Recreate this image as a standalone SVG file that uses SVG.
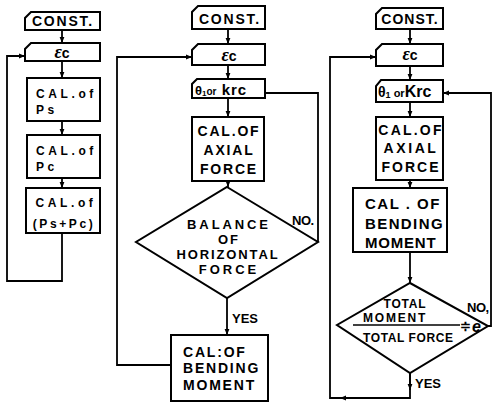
<svg xmlns="http://www.w3.org/2000/svg" width="492" height="404" viewBox="0 0 492 404">
<style>
.b{fill:#fff;stroke:#000;stroke-width:2}
.c{fill:none;stroke:#000;stroke-width:1.8}
text{font-family:"Liberation Sans",Arial,sans-serif;font-weight:bold;fill:#000}
.t14{font-size:14px;letter-spacing:1.8px}
.t13{font-size:12px;letter-spacing:3.6px}
.m{text-anchor:middle}
.e{font-family:"Liberation Serif",serif;font-style:italic;font-size:18px}
</style>
<defs>
<marker id="a" viewBox="0 0 10 10" refX="10" refY="5" markerWidth="6" markerHeight="6" orient="auto" markerUnits="userSpaceOnUse"><path d="M0,1 L10,5 L0,9 Z" fill="#000"/></marker>
</defs>
<g id="connectors">
<path class="c" d="M62,30 V43" marker-end="url(#a)"/>
<path class="c" d="M62,61 V78" marker-end="url(#a)"/>
<path class="c" d="M62,121 V135" marker-end="url(#a)"/>
<path class="c" d="M62,178 V188" marker-end="url(#a)"/>
<path class="c" d="M62,233 V281 H7 V56 H25" marker-end="url(#a)"/>
<path class="c" d="M228,29 V44" marker-end="url(#a)"/>
<path class="c" d="M228,65 V79" marker-end="url(#a)"/>
<path class="c" d="M228,98 V117" marker-end="url(#a)"/>
<path class="c" d="M228,181 V187" marker-end="url(#a)"/>
<path class="c" d="M227,298 V335" marker-end="url(#a)"/>
<path class="c" d="M171,365 H117 V57 H192" marker-end="url(#a)"/>
<path class="c" d="M318,242 V93 H265"/>
<path class="c" d="M410,29 V44" marker-end="url(#a)"/>
<path class="c" d="M410,66 V80" marker-end="url(#a)"/>
<path class="c" d="M410,102 V117" marker-end="url(#a)"/>
<path class="c" d="M410,180 V188" marker-end="url(#a)"/>
<path class="c" d="M410,252 V283" marker-end="url(#a)"/>
<path class="c" d="M410,373 V398 H330 V57 H376" marker-end="url(#a)"/>
<path class="c" d="M410,373 V390" marker-end="url(#a)"/>
<path class="c" d="M410,398 H340" marker-end="url(#a)"/>
<path class="c" d="M483,326 H491 V93 H443" marker-end="url(#a)"/>
</g>
<g id="c1-const"><path class="b" d="M31,12 H100 V30 H25 V18 Z"/><text class="t14 m" x="63" y="26">CONST.</text></g>
<g id="c1-ec"><path class="b" d="M31,43 H100 V61 H25 V49 Z"/><text class="e m" x="62" y="58">ε<tspan font-family="Liberation Sans" font-style="normal" font-size="14">c</tspan></text></g>
<g id="c1-ps"><rect class="b" x="27" y="78" width="73" height="43"/><text class="t13" x="36" y="98">CAL.of</text><text class="t13" x="36" y="114">Ps</text></g>
<g id="c1-pc"><rect class="b" x="27" y="135" width="73" height="43"/><text class="t13" x="36" y="155">CAL.of</text><text class="t13" x="36" y="171">Pc</text></g>
<g id="c1-pspc"><rect class="b" x="26" y="188" width="74" height="45"/><text class="t13 m" x="66" y="207">CAL.of</text><text class="m" x="64" y="228" font-size="12" letter-spacing="2.6">(Ps+Pc)</text></g>

<g id="c2-const"><path class="b" d="M198,6 H265 V29 H192 V12 Z"/><text class="t14 m" x="230" y="24">CONST.</text></g>
<g id="c2-ec"><path class="b" d="M198,44 H265 V65 H192 V50 Z"/><text class="e m" x="229" y="61">ε<tspan font-family="Liberation Sans" font-style="normal" font-size="14">c</tspan></text></g>
<g id="c2-theta"><path class="b" d="M197,79 H265 V98 H192 V84 Z"/><text x="195" y="95" font-size="13">θ<tspan font-size="8" dy="1">1</tspan><tspan font-size="10" dy="-1">or</tspan><tspan font-size="15" letter-spacing="1"> krc</tspan></text></g>
<g id="c2-axial"><rect class="b" x="192" y="117" width="72" height="64"/><text class="t14 m" x="229" y="136">CAL.OF</text><text class="t14 m" x="229" y="155">AXIAL</text><text class="t14 m" x="229" y="174">FORCE</text></g>
<g id="c2-balance"><path class="b" d="M227,187 L318,242 L227,298 L136,242 Z"/><text class="m" font-size="13" letter-spacing="2.9" x="229" y="229">BALANCE</text><text class="m" font-size="13" letter-spacing="2" x="229" y="244">OF</text><text class="m" font-size="13" letter-spacing="1.9" x="228" y="259">HORIZONTAL</text><text class="m" font-size="13" letter-spacing="3" x="229" y="274">FORCE</text></g>
<g id="c2-bending"><rect class="b" x="171" y="335" width="97" height="66"/><text class="t14" x="183" y="357">CAL:OF</text><text class="t14" x="183" y="373" letter-spacing="2.8">BENDING</text><text class="t14" x="183" y="390" letter-spacing="2.2">MOMENT</text></g>
<text x="292" y="225" font-size="13" letter-spacing="-0.5">NO.</text>
<text x="232" y="323" font-size="13">YES</text>

<g id="c3-const"><path class="b" d="M382,8 H443 V29 H376 V14 Z"/><text class="m" font-size="14" letter-spacing="1" x="410" y="24">CONST.</text></g>
<g id="c3-ec"><path class="b" d="M382,44 H443 V66 H376 V50 Z"/><text class="e m" x="410" y="60">ε<tspan font-family="Liberation Sans" font-style="normal" font-size="14">c</tspan></text></g>
<g id="c3-theta"><path class="b" d="M381,80 H443 V102 H376 V86 Z"/><text x="378" y="97" font-size="14">θ<tspan font-size="9" dy="1">1</tspan><tspan font-size="11" dy="-1"> or</tspan><tspan font-size="16">Krc</tspan></text></g>
<g id="c3-axial"><rect class="b" x="376" y="117" width="67" height="63"/><text class="m" font-size="14" letter-spacing="2.2" x="411" y="135">CAL.OF</text><text class="m" font-size="14" letter-spacing="2.6" x="411" y="153">AXIAL</text><text class="m" font-size="14" letter-spacing="2" x="411" y="172">FORCE</text></g>
<g id="c3-bending"><rect class="b" x="353" y="188" width="94" height="64"/><text x="365" y="209" font-size="15" letter-spacing="1.5">CAL . OF</text><text x="365" y="229" font-size="15" letter-spacing="1.4">BENDING</text><text x="365" y="248" font-size="15" letter-spacing="0.8">MOMENT</text></g>
<g id="c3-ratio"><path class="b" d="M410,283 L488,326 L410,373 L337,325 Z"/><text class="m" font-size="12" letter-spacing="0.8" x="405" y="308">TOTAL</text><text font-size="12" letter-spacing="1.8" x="363" y="322">MOMENT</text><path d="M353,325 H460" stroke="#000" stroke-width="1.5"/><text font-size="12" letter-spacing="0.6" x="363" y="342">TOTAL FORCE</text><text font-size="13" x="460" y="330">≑</text><text font-size="16" font-style="italic" font-weight="normal" x="472" y="332">e</text></g>
<text x="467" y="312" font-size="13" letter-spacing="-0.5">NO,</text>
<text x="415" y="388" font-size="13">YES</text>
</svg>
